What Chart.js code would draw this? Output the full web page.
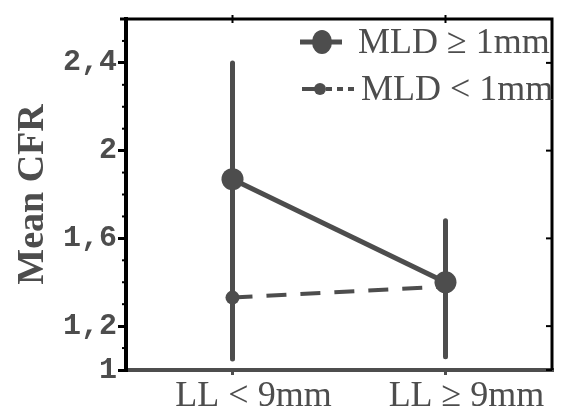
<!DOCTYPE html>
<html>
<head>
<meta charset="utf-8">
<script src="https://cdn.jsdelivr.net/npm/chart.js@4"></script>
<style>
  html, body { margin: 0; padding: 0; background: #fff; }
  #wrap { width: 563px; height: 408px; }
</style>
</head>
<body>
<div id="wrap"><canvas id="cfrChart"></canvas></div>
<script>
// datos
const categories = ['LL < 9mm', 'LL ≥ 9mm'];
const seriesNames = ['MLD ≥ 1mm', 'MLD < 1mm'];
const mldHigh = [1.87, 1.40];
const mldLow = [1.33, 1.38];
const mldHighErrLow = [1.05, 1.06];
const mldHighErrHigh = [2.40, 1.68];
const mldLowErrLow = [1.08, 1.10];
const mldLowErrHigh = [1.59, 1.62];
const yTicks = [1, 1.2, 1.6, 2, 2.4];

const GRAY = '#4d4d4d';
const SERIF = '"Liberation Serif", "DejaVu Serif", serif';

function errorBar(i, low, high) {
    return {
        data: [{ x: i, y: low[i] }, { x: i, y: high[i] }],
        borderColor: GRAY,
        borderWidth: 5,
        borderCapStyle: 'round',
        pointRadius: 0
    };
}

const datasets = [
    {
        label: seriesNames[0],
        data: mldHigh.map((v, i) => ({ x: i, y: v })),
        borderColor: GRAY,
        backgroundColor: GRAY,
        borderWidth: 5,
        pointRadius: 11,
        pointBorderWidth: 0
    },
    {
        label: seriesNames[1],
        data: mldLow.map((v, i) => ({ x: i, y: v })),
        borderColor: GRAY,
        backgroundColor: GRAY,
        borderWidth: 4,
        borderDash: [20, 14],
        pointRadius: 7,
        pointBorderWidth: 0
    }
];
categories.forEach((c, i) => {
    datasets.push(errorBar(i, mldHighErrLow, mldHighErrHigh));
    datasets.push(errorBar(i, mldLowErrLow, mldLowErrHigh));
});

// marco superior/derecho, marcas menores y leyenda dentro del área
const framePlugin = {
    id: 'frame',
    afterDraw(chart) {
        const { ctx, chartArea: a, scales } = chart;
        const y = scales.y, x = scales.x;
        ctx.save();
        ctx.strokeStyle = '#000';
        ctx.lineWidth = 3;
        ctx.beginPath();
        ctx.moveTo(a.left - 6, a.top);
        ctx.lineTo(a.right, a.top);
        ctx.lineTo(a.right, a.bottom);
        ctx.stroke();

        ctx.lineWidth = 2;
        for (let v = 1.1; v < 2.6; v += 0.1) {
            const py = y.getPixelForValue(v);
            ctx.beginPath();
            ctx.moveTo(a.left - 4, py);
            ctx.lineTo(a.left, py);
            ctx.stroke();
        }
        yTicks.forEach(v => {
            const py = y.getPixelForValue(v);
            ctx.beginPath();
            ctx.moveTo(a.right - 6, py);
            ctx.lineTo(a.right, py);
            ctx.stroke();
        });
        categories.forEach((c, i) => {
            const px = x.getPixelForValue(i);
            ctx.beginPath();
            ctx.moveTo(px, a.top - 4);
            ctx.lineTo(px, a.top + 4);
            ctx.stroke();
        });

        // leyenda
        ctx.fillStyle = GRAY;
        ctx.strokeStyle = GRAY;
        ctx.font = '36px ' + SERIF;
        ctx.textBaseline = 'middle';
        const lx = 300, rows = [42, 89];
        ctx.lineWidth = 5;
        ctx.beginPath();
        ctx.moveTo(lx, rows[0]);
        ctx.lineTo(lx + 42, rows[0]);
        ctx.stroke();
        ctx.beginPath();
        ctx.ellipse(lx + 22, rows[0], 10, 12, 0, 0, Math.PI * 2);
        ctx.fill();
        ctx.fillText(seriesNames[0], lx + 58, rows[0] + 2);

        ctx.lineWidth = 4;
        ctx.beginPath();
        ctx.moveTo(lx + 2, rows[1]);
        ctx.lineTo(lx + 20, rows[1]);
        ctx.stroke();
        ctx.setLineDash([6, 5]);
        ctx.beginPath();
        ctx.moveTo(lx + 26, rows[1]);
        ctx.lineTo(lx + 58, rows[1]);
        ctx.stroke();
        ctx.setLineDash([]);
        ctx.beginPath();
        ctx.arc(lx + 20, rows[1], 6, 0, Math.PI * 2);
        ctx.fill();
        ctx.fillText(seriesNames[1], lx + 61, rows[1] + 2);
        ctx.restore();
    }
};

const ctx = document.getElementById('cfrChart').getContext('2d');
new Chart(ctx, {
    type: 'line',
    data: { datasets: datasets },
    options: {
        responsive: true,
        maintainAspectRatio: false,
        animation: false,
        layout: { padding: { top: 15, right: 9, left: 0, bottom: 0 } },
        plugins: {
            legend: { display: false },
            tooltip: { enabled: false }
        },
        scales: {
            x: {
                type: 'linear',
                min: -0.5,
                max: 1.5,
                afterBuildTicks: axis => { axis.ticks = categories.map((c, i) => ({ value: i })); },
                afterFit: axis => { axis.height = 38; },
                ticks: {
                    callback: v => categories[v],
                    color: GRAY,
                    font: { family: SERIF, size: 36 },
                    padding: 0,
                    labelOffset: 21,
                    maxRotation: 0
                },
                grid: { display: true, drawOnChartArea: false, drawTicks: true, tickLength: 5, color: GRAY, lineWidth: 3 },
                border: { display: true, color: GRAY, width: 4 }
            },
            y: {
                min: 1,
                max: 2.6,
                afterBuildTicks: axis => { axis.ticks = yTicks.map(v => ({ value: v })); },
                afterFit: axis => { axis.width = 126; },
                ticks: {
                    callback: v => String(v).replace('.', ','),
                    color: GRAY,
                    font: { family: '"Liberation Mono", monospace', size: 30, weight: 'bold' },
                    padding: 1
                },
                grid: { display: true, drawOnChartArea: false, drawTicks: true, tickLength: 8, color: '#000', lineWidth: 3 },
                border: { display: true, color: '#000', width: 4 },
                title: {
                    display: true,
                    text: 'Mean CFR',
                    color: GRAY,
                    font: { family: SERIF, size: 38, weight: 'bold' },
                    padding: { top: 10, bottom: 0 }
                }
            }
        }
    },
    plugins: [framePlugin]
});
</script>
</body>
</html>
